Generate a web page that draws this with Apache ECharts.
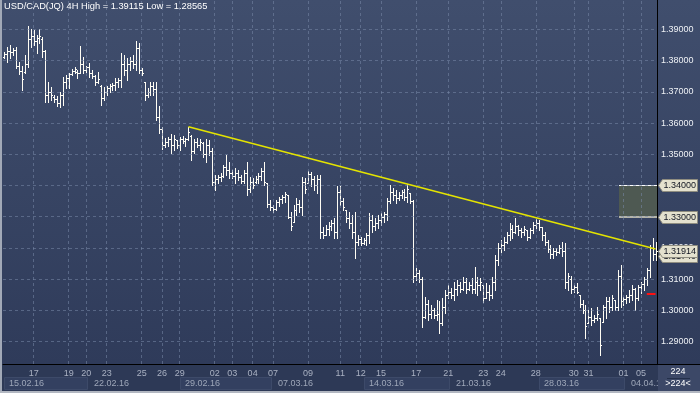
<!DOCTYPE html>
<html><head><meta charset="utf-8">
<script src="https://cdn.jsdelivr.net/npm/echarts@6/dist/echarts.min.js"></script>
<style>html,body{margin:0;padding:0;background:#2d3956;}#c{width:700px;height:393px;}</style>
</head><body><div id="c"></div>
<script>
const titleText = 'USD/CAD(JQ) 4H High = 1.39115 Low = 1.28565';

const highs = [
1.3828,1.3844,1.3850,1.3840,1.3844,1.3796,1.3783,1.3818,1.39115,1.3901,
1.3898,1.3882,1.3901,1.3876,1.3834,1.3732,1.3716,1.3690,1.3687,1.3700,
1.3748,1.3754,1.3760,1.3773,1.3780,1.3770,1.3847,1.3812,1.3783,1.3792,
1.3770,1.3754,1.3764,1.3722,1.3716,1.3719,1.3725,1.3728,1.3744,1.3744,
1.3824,1.3818,1.3808,1.3812,1.3818,1.3863,1.3856,1.3776,1.3732,1.3712,
1.3732,1.3732,1.3732,1.3655,1.3588,1.3552,1.3556,1.3565,1.3562,1.3546,
1.3556,1.3559,1.3552,1.3588,1.3562,1.3549,1.3552,1.3549,1.3540,1.3549,
1.3546,1.3520,1.3434,1.3434,1.3440,1.3466,1.3498,1.3476,1.3450,1.3456,
1.3450,1.3434,1.3450,1.3476,1.3428,1.3424,1.3431,1.3440,1.3456,1.3476,
1.3408,1.3354,1.3338,1.3354,1.3364,1.3370,1.3380,1.3370,1.3316,1.3338,
1.3360,1.3354,1.3428,1.3424,1.3447,1.3444,1.3431,1.3434,1.3434,1.3268,
1.3274,1.3284,1.3290,1.3296,1.3399,1.3399,1.3360,1.3322,1.3316,1.3306,
1.3316,1.3242,1.3236,1.3232,1.3248,1.3312,1.3306,1.3296,1.3306,1.3312,
1.3316,1.3360,1.3402,1.3392,1.3386,1.3380,1.3386,1.3389,1.3405,1.3376,
1.3354,1.3136,1.3130,1.3108,1.3044,1.3034,1.3018,1.3008,1.3034,1.3031,
1.3040,1.3066,1.3082,1.3072,1.3092,1.3098,1.3092,1.3108,1.3104,1.3092,
1.3104,1.3140,1.3108,1.3104,1.3082,1.3088,1.3082,1.3108,1.3178,1.3216,
1.3226,1.3236,1.3251,1.3280,1.3274,1.3296,1.3274,1.3264,1.3271,1.3258,
1.3264,1.3283,1.3293,1.3290,1.3268,1.3251,1.3226,1.3210,1.3200,1.3200,
1.3210,1.3220,1.3216,1.3120,1.3110,1.3082,1.3088,1.3050,1.3034,1.3018,
1.3002,1.3008,1.2986,1.3012,1.2976,1.3018,1.3044,1.3044,1.3050,1.3034,
1.3130,1.3146,1.3044,1.3050,1.3066,1.3082,1.3072,1.3082,1.3092,1.3108,
1.3136,1.3210,1.3232,1.3220];

const lows = [
1.3808,1.3796,1.3808,1.3818,1.3776,1.3757,1.3706,1.3760,1.3780,1.3844,
1.3850,1.3824,1.3856,1.3812,1.3668,1.3668,1.3674,1.3668,1.3655,1.3652,
1.3658,1.3712,1.3712,1.3754,1.3760,1.3744,1.3760,1.3760,1.3764,1.3748,
1.3744,1.3722,1.3728,1.3658,1.3674,1.3690,1.3700,1.3706,1.3706,1.3716,
1.3716,1.3754,1.3738,1.3770,1.3776,1.3770,1.3760,1.3754,1.3674,1.3684,
1.3690,1.3690,1.3610,1.3568,1.3517,1.3524,1.3527,1.3504,1.3514,1.3520,
1.3514,1.3536,1.3527,1.3546,1.3482,1.3504,1.3524,1.3514,1.3492,1.3476,
1.3498,1.3402,1.3386,1.3408,1.3415,1.3428,1.3434,1.3424,1.3424,1.3408,
1.3418,1.3408,1.3408,1.3370,1.3380,1.3392,1.3408,1.3408,1.3418,1.3402,
1.3332,1.3322,1.3316,1.3322,1.3335,1.3344,1.3348,1.3296,1.3258,1.3284,
1.3306,1.3316,1.3306,1.3376,1.3408,1.3399,1.3386,1.3376,1.3232,1.3232,
1.3242,1.3242,1.3258,1.3232,1.3232,1.3338,1.3322,1.3284,1.3264,1.3232,
1.3168,1.3210,1.3210,1.3213,1.3210,1.3216,1.3252,1.3258,1.3264,1.3274,
1.3284,1.3290,1.3344,1.3354,1.3344,1.3354,1.3360,1.3354,1.3348,1.3344,
1.3092,1.3098,1.3092,1.2948,1.2976,1.2970,1.2976,1.2976,1.2970,1.2928,
1.2954,1.2992,1.3040,1.3040,1.3034,1.3050,1.3060,1.3066,1.3056,1.3066,
1.3056,1.3056,1.3050,1.3066,1.3028,1.3040,1.3034,1.3040,1.3066,1.3146,
1.3188,1.3194,1.3216,1.3226,1.3232,1.3248,1.3242,1.3236,1.3242,1.3226,
1.3232,1.3248,1.3264,1.3258,1.3226,1.3210,1.3188,1.3168,1.3168,1.3178,
1.3184,1.3175,1.3072,1.3066,1.3056,1.3060,1.3056,1.3012,1.2992,1.2912,
1.2960,1.2954,1.2964,1.2970,1.28565,1.2964,1.2976,1.2996,1.3002,1.3002,
1.3002,1.3012,1.3018,1.3024,1.3028,1.3034,1.3002,1.3034,1.3056,1.3066,
1.3082,1.3108,1.3162,1.3162];

const opens = [
1.3812,1.3822,1.3830,1.3826,1.3834,1.3784,1.3766,1.3762,1.3790,1.3870,
1.3880,1.3862,1.3872,1.3870,1.3830,1.3690,1.3700,1.3684,1.3676,1.3664,
1.3690,1.3730,1.3744,1.3756,1.3766,1.3762,1.3760,1.3790,1.3770,1.3778,
1.3760,1.3750,1.3730,1.3720,1.3680,1.3700,1.3712,1.3718,1.3722,1.3730,
1.3738,1.3790,1.3770,1.3790,1.3800,1.3790,1.3840,1.3770,1.3730,1.3690,
1.3700,1.3720,1.3708,1.3620,1.3580,1.3530,1.3540,1.3548,1.3530,1.3546,
1.3530,1.3548,1.3542,1.3548,1.3560,1.3510,1.3540,1.3530,1.3536,1.3500,
1.3530,1.3510,1.3410,1.3420,1.3426,1.3432,1.3460,1.3450,1.3440,1.3432,
1.3440,1.3426,1.3416,1.3440,1.3390,1.3410,1.3410,1.3422,1.3430,1.3446,
1.3408,1.3340,1.3330,1.3324,1.3346,1.3356,1.3362,1.3370,1.3300,1.3284,
1.3320,1.3340,1.3330,1.3410,1.3408,1.3436,1.3420,1.3400,1.3420,1.3250,
1.3242,1.3262,1.3270,1.3280,1.3250,1.3380,1.3350,1.3322,1.3296,1.3280,
1.3250,1.3220,1.3230,1.3216,1.3224,1.3240,1.3290,1.3270,1.3280,1.3290,
1.3300,1.3310,1.3350,1.3380,1.3370,1.3360,1.3370,1.3378,1.3364,1.3376,
1.3350,1.3110,1.3120,1.3100,1.2980,1.3020,1.2990,1.3000,1.2986,1.2990,
1.2960,1.3010,1.3050,1.3060,1.3050,1.3070,1.3080,1.3070,1.3090,1.3070,
1.3080,1.3070,1.3090,1.3080,1.3080,1.3040,1.3060,1.3050,1.3090,1.3160,
1.3200,1.3210,1.3220,1.3240,1.3260,1.3250,1.3270,1.3256,1.3250,1.3258,
1.3236,1.3256,1.3274,1.3280,1.3266,1.3240,1.3220,1.3196,1.3180,1.3190,
1.3186,1.3200,1.3190,1.3090,1.3100,1.3070,1.3076,1.3050,1.3020,1.3000,
1.2960,1.2980,1.2970,1.2976,1.2976,1.2964,1.3010,1.3030,1.3010,1.3034,
1.3010,1.3110,1.3030,1.3036,1.3044,1.3050,1.3070,1.3040,1.3076,1.3084,
1.3100,1.3130,1.3200,1.3180];

const closes = [
1.3822,1.3830,1.3826,1.3834,1.3784,1.3766,1.3742,1.3790,1.3870,1.3880,
1.3862,1.3872,1.3880,1.3830,1.3690,1.3700,1.3690,1.3676,1.3664,1.3690,
1.3730,1.3744,1.3756,1.3766,1.3772,1.3760,1.3790,1.3770,1.3778,1.3760,
1.3750,1.3730,1.3740,1.3680,1.3700,1.3712,1.3718,1.3722,1.3730,1.3738,
1.3790,1.3770,1.3790,1.3800,1.3790,1.3840,1.3770,1.3760,1.3690,1.3700,
1.3720,1.3708,1.3620,1.3580,1.3530,1.3540,1.3548,1.3530,1.3550,1.3530,
1.3548,1.3542,1.3548,1.3570,1.3510,1.3540,1.3530,1.3540,1.3500,1.3530,
1.3510,1.3410,1.3420,1.3426,1.3432,1.3460,1.3450,1.3440,1.3432,1.3440,
1.3426,1.3416,1.3440,1.3390,1.3410,1.3400,1.3422,1.3430,1.3446,1.3410,
1.3340,1.3330,1.3324,1.3346,1.3356,1.3362,1.3372,1.3300,1.3270,1.3320,
1.3340,1.3330,1.3410,1.3390,1.3436,1.3420,1.3400,1.3420,1.3250,1.3240,
1.3262,1.3270,1.3280,1.3250,1.3380,1.3350,1.3330,1.3296,1.3280,1.3250,
1.3220,1.3230,1.3216,1.3224,1.3240,1.3290,1.3270,1.3280,1.3290,1.3300,
1.3310,1.3350,1.3380,1.3370,1.3360,1.3370,1.3378,1.3364,1.3390,1.3350,
1.3110,1.3120,1.3100,1.2980,1.3020,1.2990,1.3000,1.2986,1.2990,1.2960,
1.3010,1.3050,1.3060,1.3050,1.3070,1.3080,1.3070,1.3090,1.3070,1.3080,
1.3070,1.3090,1.3080,1.3090,1.3040,1.3060,1.3050,1.3090,1.3160,1.3200,
1.3210,1.3220,1.3240,1.3260,1.3250,1.3270,1.3256,1.3250,1.3260,1.3236,
1.3256,1.3274,1.3280,1.3266,1.3240,1.3220,1.3196,1.3180,1.3190,1.3186,
1.3200,1.3190,1.3090,1.3110,1.3070,1.3076,1.3060,1.3020,1.3000,1.2950,
1.2980,1.2970,1.2976,1.2990,1.2890,1.3010,1.3030,1.3010,1.3040,1.3010,
1.3110,1.3030,1.3036,1.3044,1.3050,1.3070,1.3040,1.3076,1.3084,1.3100,
1.3130,1.3200,1.3180,1.31914];

const yTickValues = [1.29,1.30,1.31,1.32,1.33,1.34,1.35,1.36,1.37,1.38,1.39];
const yTickLabels = ['1.29000','1.30000','1.31000','1.32000','1.33000','1.34000','1.35000','1.36000','1.37000','1.38000','1.39000'];
const yMin = 1.28286, yMax = 1.39938;

const dayLabels = ['17','19','20','23','25','26','29','02','03','04','07','09','11','12','15','17','21','23','24','28','30','31','01','05'];
const dayLabelBars = [10,22,28,35,47,54,60,72,78,85,92,104,115,122,129,141,152,164,170,182,195,200,212,218];

const weekLabels = ['15.02.16','22.02.16','29.02.16','07.03.16','14.03.16','21.03.16','28.03.16','04.04.16'];
const weekStartBars = [0,29,60,92,123,153,183,213];

const trendStart = [63, 1.3588];
const trendEnd = [223, 1.3197];
const zoneTop = 1.34, zoneBottom = 1.33, zoneStartBar = 211;
const zoneLabels = ['1.34000','1.33000'];
const redLevel = 1.3052, redBars = [220, 223];
const askPrice = 1.31740, bidPrice = 1.31914;
const barCountText = '224';

const FONT = '"Liberation Sans", Arial, sans-serif';
const categories = highs.map((h, i) => String(i + 1));
const dayMap = {};
dayLabelBars.forEach((b, k) => { dayMap[b] = dayLabels[k]; });
const bars = highs.map((h, i) => [i, opens[i], closes[i], lows[i], h]);

const gridColor = 'rgba(120,136,168,0.55)';
const markData = [];
yTickValues.forEach((v, k) => {
  const special = (v === zoneTop || v === zoneBottom);
  markData.push({
    yAxis: v,
    lineStyle: {color: gridColor, type: [3, 3], width: 1},
    label: {show: !special, position: 'end', distance: 4, formatter: yTickLabels[k],
            color: '#eef1f5', fontSize: 9, fontFamily: FONT}
  });
});
dayLabelBars.forEach(b => {
  markData.push({xAxis: b, lineStyle: {color: gridColor, type: [3, 3], width: 1}, label: {show: false}});
});
markData.push([
  {coord: trendStart, lineStyle: {color: '#e4e400', width: 1.6, type: 'solid'}, label: {show: false}},
  {coord: trendEnd}
]);
markData.push([
  {coord: [redBars[0], redLevel], lineStyle: {color: '#ff1010', width: 2, type: 'solid'}, label: {show: false}},
  {coord: [redBars[1], redLevel]}
]);

const option = {
  animation: false,
  backgroundColor: '#2d3956',
  grid: {left: 3, right: 43, top: 0, bottom: 29, containLabel: false},
  xAxis: {
    type: 'category', data: categories, boundaryGap: true,
    axisLine: {show: true, lineStyle: {color: '#000000', width: 1}},
    axisTick: {show: false},
    splitLine: {show: false},
    axisLabel: {show: true, interval: 0, margin: 5, color: '#a9b1c2', fontSize: 9, fontFamily: FONT,
      formatter: (v, idx) => dayMap[idx] || ''}
  },
  yAxis: {
    type: 'value', position: 'right', min: yMin, max: yMax, scale: true,
    axisLine: {show: true, lineStyle: {color: '#000000', width: 1}},
    axisTick: {show: false}, axisLabel: {show: false}, splitLine: {show: false}
  },
  series: [{
    type: 'custom',
    data: bars,
    encode: {x: 0, y: [1, 2, 3, 4]},
    z: 3,
    renderItem: function (params, api) {
      const i = api.value(0);
      const ph = api.coord([i, api.value(4)]);
      const pl = api.coord([i, api.value(3)]);
      const po = api.coord([i, api.value(1)]);
      const pc = api.coord([i, api.value(2)]);
      const X = Math.round(ph[0]);
      const yh = Math.round(ph[1]), yl = Math.round(pl[1]);
      const yo = Math.round(po[1]), yc = Math.round(pc[1]);
      const fill = {fill: '#fffdf4'};
      return {type: 'group', children: [
        {type: 'rect', shape: {x: X, y: yh, width: 1, height: Math.max(1, yl - yh + 1)}, style: fill},
        {type: 'rect', shape: {x: X - 1, y: yo, width: 1, height: 1}, style: fill},
        {type: 'rect', shape: {x: X + 1, y: yc, width: 1, height: 1}, style: fill}
      ]};
    },
    markLine: {silent: true, symbol: ['none', 'none'], precision: 5, data: markData}
  }]
};

const chart = echarts.init(document.getElementById('c'), null, {renderer: 'canvas'});
chart.setOption(option);

const px = (i, v) => chart.convertToPixel({gridIndex: 0}, [i, v]);
const bw = px(1, 1.3)[0] - px(0, 1.3)[0];
const rightEdge = px(highs.length - 1, 1.3)[0] + bw / 2;
const bottomEdge = px(0, yMin)[1];

const g = [];
// backgrounds
g.push({type: 'rect', z: -20, silent: true, shape: {x: 0, y: 0, width: 700, height: bottomEdge},
  style: {fill: new echarts.graphic.LinearGradient(0, 0, 0, 1, [
    {offset: 0, color: '#404e6d'}, {offset: 1, color: '#2f3b5a'}])}});
g.push({type: 'rect', z: -20, silent: true, shape: {x: 0, y: bottomEdge, width: 700, height: 393 - bottomEdge},
  style: {fill: '#2d3956'}});
g.push({type: 'line', z: 5, silent: true, shape: {x1: rightEdge, y1: Math.round(bottomEdge) + 0.5, x2: 700, y2: Math.round(bottomEdge) + 0.5},
  style: {stroke: '#000', lineWidth: 1}});

// week date boxes
weekStartBars.forEach((b, k) => {
  const x0 = Math.round(px(b, 1.3)[0]);
  const x1 = k + 1 < weekStartBars.length ? Math.round(px(weekStartBars[k + 1], 1.3)[0]) : 700;
  if (k % 2 === 0) {
    g.push({type: 'rect', z: 1, silent: true, shape: {x: x0 + 0.5, y: 377.5, width: x1 - x0 - 2, height: 12},
      style: {fill: '#334060', stroke: '#3d4a69', lineWidth: 1}});
  }
  g.push({type: 'text', z: 2, silent: true, x: x0 + 5, y: 384,
    style: {text: weekLabels[k], fill: '#9ea7b9', font: '9px ' + FONT, verticalAlign: 'middle', textVerticalAlign: 'middle'}});
});

// bottom right counter box
g.push({type: 'rect', z: 6, silent: true, shape: {x: rightEdge + 1, y: bottomEdge + 1, width: 700 - rightEdge - 1, height: 393 - bottomEdge - 1},
  style: {fill: '#3c4867'}});
g.push({type: 'text', z: 7, silent: true, x: 678, y: 372,
  style: {text: barCountText, fill: '#ffffff', font: '9px ' + FONT, align: 'center', textAlign: 'center', verticalAlign: 'middle', textVerticalAlign: 'middle'}});
g.push({type: 'line', z: 7, silent: true, shape: {x1: 667, y1: 378.5, x2: 690, y2: 378.5}, style: {stroke: '#24304b', lineWidth: 1}});
g.push({type: 'text', z: 7, silent: true, x: 678, y: 384,
  style: {text: '>' + barCountText + '<', fill: '#ffffff', font: '9px ' + FONT, align: 'center', textAlign: 'center', verticalAlign: 'middle', textVerticalAlign: 'middle'}});

// zone box
const zx = Math.round(px(zoneStartBar, zoneTop)[0] - bw / 2);
const zt = Math.round(px(0, zoneTop)[1]);
const zb = Math.round(px(0, zoneBottom)[1]);
g.push({type: 'rect', z: 1, silent: true, shape: {x: zx, y: zt, width: rightEdge - zx, height: zb - zt},
  style: {fill: '#4e5952'}});
g.push({type: 'line', z: 1, silent: true, shape: {x1: zx, y1: zt + 0.5, x2: rightEdge, y2: zt + 0.5}, style: {stroke: '#ffffff', lineWidth: 1}});
g.push({type: 'line', z: 1, silent: true, shape: {x1: zx, y1: zb, x2: rightEdge, y2: zb}, style: {stroke: '#b4b4aa', lineWidth: 2}});

// price tags (later tags drawn above earlier ones)
let tagZ = 8;
function tag(v, txt) {
  const y = Math.round(px(0, v)[1]) + 0.5;
  const x0 = Math.round(rightEdge) + 1.5;
  g.push({type: 'polygon', z: tagZ, silent: true,
    shape: {points: [[x0, y], [x0 + 4, y - 6], [697.5, y - 6], [697.5, y + 6], [x0 + 4, y + 6]]},
    style: {fill: '#e4e1ce', stroke: '#8f8d80', lineWidth: 1}});
  g.push({type: 'text', z: tagZ + 1, silent: true, x: x0 + 5, y: y + 0.5,
    style: {text: txt, fill: '#111522', font: '9px ' + FONT, verticalAlign: 'middle', textVerticalAlign: 'middle'}});
  tagZ += 2;
}
tag(zoneTop, zoneLabels[0]);
tag(zoneBottom, zoneLabels[1]);
tag(askPrice, askPrice.toFixed(5));
tag(bidPrice, bidPrice.toFixed(5));

// borders
g.push({type: 'rect', z: 30, silent: true, shape: {x: 0, y: 0, width: 2, height: 393}, style: {fill: '#a2a9b7'}});
g.push({type: 'rect', z: 30, silent: true, shape: {x: 0, y: 391, width: 700, height: 2}, style: {fill: '#b2b7c1'}});

// title
g.push({type: 'text', z: 30, silent: true, x: 4, y: 2,
  style: {text: titleText, fill: '#ffffff', font: '9.3px ' + FONT, verticalAlign: 'top', textVerticalAlign: 'top'}});

chart.setOption({graphic: {elements: g}});
</script></body></html>
